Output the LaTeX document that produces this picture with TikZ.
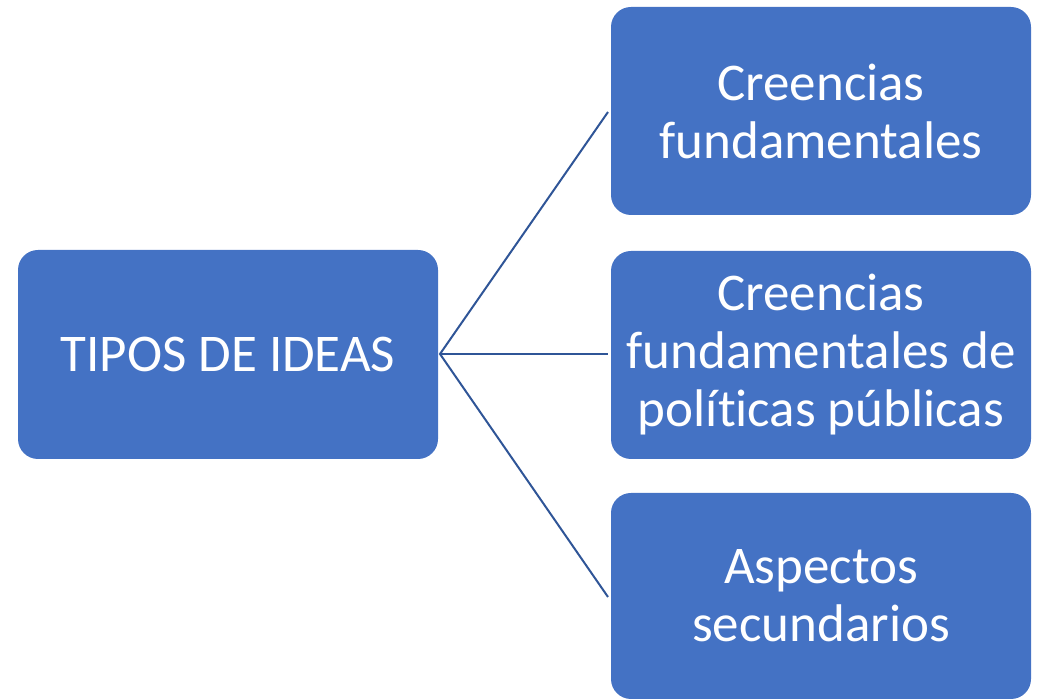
\documentclass[tikz,border=0pt]{standalone}
\usepackage{fontspec}
\setmainfont[Ligatures={NoCommon}]{Carlito}
\definecolor{boxblue}{HTML}{4472C4}
\definecolor{lineblue}{HTML}{2F5597}
\begin{document}
\begin{tikzpicture}[x=1pt,y=1pt,
  ideabox/.style={draw=none,fill=boxblue,rounded corners=20pt,text=white,
    align=center,font=\fontsize{53}{58}\selectfont,inner sep=0pt},
  link/.style={draw=lineblue,line width=2pt}]
\useasboundingbox (0,0) rectangle (1038,700);
\node[ideabox,minimum width=420pt,minimum height=209pt] (root) at (228,345.5) {TIPOS DE IDEAS};
\node[ideabox,minimum width=420pt,minimum height=208pt] (a) at (821,589) {Creencias\\fundamentales};
\node[ideabox,minimum width=420pt,minimum height=208pt] (b) at (821,345) {Creencias\\fundamentales de\\políticas públicas};
\node[ideabox,minimum width=420pt,minimum height=206pt] (c) at (821,104) {Aspectos\\secundarios};
\coordinate (hub) at (440,346);
\coordinate (ea) at (608,588);
\coordinate (eb) at (608,346);
\coordinate (ec) at (608,103);
\draw[link] (ea) -- (hub) -- (ec);
\draw[link] (hub) -- (eb);
\end{tikzpicture}
\end{document}
